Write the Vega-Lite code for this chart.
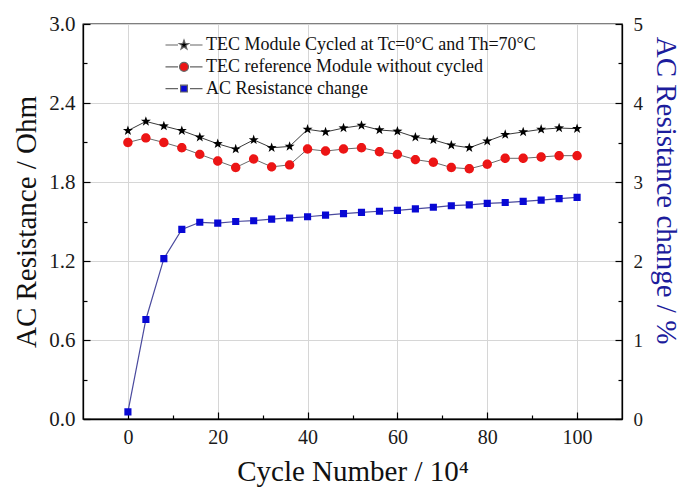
{
  "$schema": "https://vega.github.io/schema/vega-lite/v6.json",
  "width": 539,
  "height": 395,
  "autosize": "none",
  "padding": {"left": 83, "top": 24, "right": 75, "bottom": 74},
  "background": "white",
  "config": {
    "view": {"stroke": "#000", "strokeWidth": 1.3},
    "font": "Liberation Serif",
    "axis": {
      "labelFont": "Liberation Serif",
      "labelFontSize": 19,
      "labelColor": "#1a1a1a",
      "titleFont": "Liberation Serif",
      "titleFontWeight": "normal",
      "titleColor": "#111",
      "domainColor": "#000",
      "domainWidth": 1.3,
      "tickColor": "#000",
      "tickWidth": 1.2,
      "gridColor": "#d6d6d6",
      "gridWidth": 1,
      "labelOverlap": false
    }
  },
  "data": {
    "values": [
      {"cycle": 0, "cycled": 2.19, "reference": 2.10, "change": 0.09},
      {"cycle": 4, "cycled": 2.26, "reference": 2.135, "change": 1.26},
      {"cycle": 8, "cycled": 2.225, "reference": 2.10, "change": 2.03},
      {"cycle": 12, "cycled": 2.19, "reference": 2.06, "change": 2.40},
      {"cycle": 16, "cycled": 2.14, "reference": 2.01, "change": 2.49},
      {"cycle": 20, "cycled": 2.09, "reference": 1.96, "change": 2.48},
      {"cycle": 24, "cycled": 2.05, "reference": 1.91, "change": 2.50},
      {"cycle": 28, "cycled": 2.12, "reference": 1.975, "change": 2.51},
      {"cycle": 32, "cycled": 2.06, "reference": 1.915, "change": 2.53},
      {"cycle": 36, "cycled": 2.07, "reference": 1.93, "change": 2.545},
      {"cycle": 40, "cycled": 2.20, "reference": 2.05, "change": 2.56},
      {"cycle": 44, "cycled": 2.18, "reference": 2.035, "change": 2.58},
      {"cycle": 48, "cycled": 2.21, "reference": 2.05, "change": 2.60},
      {"cycle": 52, "cycled": 2.23, "reference": 2.06, "change": 2.615},
      {"cycle": 56, "cycled": 2.195, "reference": 2.03, "change": 2.63},
      {"cycle": 60, "cycled": 2.185, "reference": 2.01, "change": 2.64},
      {"cycle": 64, "cycled": 2.14, "reference": 1.97, "change": 2.66},
      {"cycle": 68, "cycled": 2.12, "reference": 1.95, "change": 2.68},
      {"cycle": 72, "cycled": 2.08, "reference": 1.91, "change": 2.70},
      {"cycle": 76, "cycled": 2.06, "reference": 1.90, "change": 2.71},
      {"cycle": 80, "cycled": 2.11, "reference": 1.935, "change": 2.73},
      {"cycle": 84, "cycled": 2.16, "reference": 1.98, "change": 2.74},
      {"cycle": 88, "cycled": 2.18, "reference": 1.98, "change": 2.755},
      {"cycle": 92, "cycled": 2.20, "reference": 1.99, "change": 2.77},
      {"cycle": 96, "cycled": 2.21, "reference": 2.00, "change": 2.79},
      {"cycle": 100, "cycled": 2.205, "reference": 2.00, "change": 2.805}
    ]
  },
  "transform": [{"fold": ["cycled", "reference", "change"], "as": ["series", "value"]}],
  "encoding": {
    "x": {
      "field": "cycle",
      "type": "quantitative",
      "scale": {"domain": [-10, 110], "nice": false, "zero": false},
      "axis": {
        "values": [0, 10, 20, 30, 40, 50, 60, 70, 80, 90, 100],
        "format": ".0f",
        "labelExpr": "datum.value % 20 === 0 ? datum.label : ''",
        "tickSize": {"condition": {"test": "datum.value % 20 === 0", "value": -7}, "value": -4},
        "grid": true,
        "gridOpacity": {"condition": {"test": "datum.value % 20 === 0", "value": 1}, "value": 0},
        "labelPadding": 15,
        "labelFontSize": 20,
        "title": "Cycle Number / 10⁴",
        "titleFontSize": 29,
        "titlePadding": 7
      }
    }
  },
  "layer": [
    {
      "transform": [{"filter": "datum.series !== 'change'"}],
      "encoding": {
        "y": {
          "field": "value",
          "type": "quantitative",
          "scale": {"domain": [0, 3], "nice": false, "zero": false},
          "axis": {
            "orient": "left",
            "values": [0, 0.3, 0.6, 0.9, 1.2, 1.5, 1.8, 2.1, 2.4, 2.7, 3.0],
            "format": ".1f",
            "labelExpr": "round(datum.value * 10) % 6 === 0 ? datum.label : ''",
            "tickSize": {"condition": {"test": "round(datum.value * 10) % 6 === 0", "value": -7}, "value": -4},
            "grid": true,
            "gridOpacity": {"condition": {"test": "round(datum.value * 10) % 6 === 0", "value": 1}, "value": 0},
            "labelPadding": 15,
            "labelFontSize": 21,
            "title": "AC Resistance / Ohm",
            "titleFontSize": 29,
            "titlePadding": 7
          }
        }
      },
      "layer": [
        {
          "transform": [{"filter": "datum.series === 'cycled'"}],
          "mark": {"type": "line", "color": "#3a3a3a", "strokeWidth": 1},
          "encoding": {}
        },
        {
          "transform": [{"filter": "datum.series === 'reference'"}],
          "mark": {"type": "line", "color": "#6a6a6a", "strokeWidth": 1},
          "encoding": {}
        },
        {
          "mark": {"type": "point", "filled": true, "opacity": 1, "size": 110, "stroke": "transparent"},
          "encoding": {
            "color": {
              "field": "series",
              "type": "nominal",
              "scale": {"domain": ["cycled", "reference", "change"], "range": ["#000000", "#ec1515", "#0808d4"]},
              "legend": {
                "orient": "none",
                "legendX": 92,
                "legendY": 12,
                "title": null,
                "padding": 0,
                "labelFont": "Liberation Serif",
                "labelFontSize": 18,
                "labelColor": "#111",
                "labelLimit": 0,
                "labelOffset": 13,
                "rowPadding": 3.8,
                "symbolSize": 100,
                "symbolStrokeColor": "#666",
                "symbolStrokeWidth": 1.2,
                "labelExpr": "datum.value === 'cycled' ? 'TEC Module Cycled at Tc=0°C and Th=70°C' : datum.value === 'reference' ? 'TEC reference Module without cycled' : 'AC Resistance change'"
              }
            },
            "shape": {
              "field": "series",
              "type": "nominal",
              "scale": {
                "domain": ["cycled", "reference", "change"],
                "range": [
                  "M-3.7,0L-1.2,0M1.2,0L3.7,0M0,-1L0.235,-0.324L0.951,-0.309L0.38,0.124L0.588,0.809L0,0.4L-0.588,0.809L-0.38,0.124L-0.951,-0.309L-0.235,-0.324Z",
                  "M-3.7,0L-1.2,0M1.2,0L3.7,0M-0.9,0A0.9,0.9,0,1,0,0.9,0A0.9,0.9,0,1,0,-0.9,0Z",
                  "M-3.7,0L-1.2,0M1.2,0L3.7,0M-0.68,-0.68L0.68,-0.68L0.68,0.68L-0.68,0.68Z"
                ]
              }
            }
          }
        }
      ]
    },
    {
      "transform": [{"filter": "datum.series === 'change'"}],
      "encoding": {
        "y": {
          "field": "value",
          "type": "quantitative",
          "scale": {"domain": [0, 5], "nice": false, "zero": false},
          "axis": {
            "orient": "right",
            "values": [0, 0.5, 1, 1.5, 2, 2.5, 3, 3.5, 4, 4.5, 5],
            "format": ".0f",
            "labelExpr": "datum.value % 1 === 0 ? datum.label : ''",
            "tickSize": {"condition": {"test": "datum.value % 1 === 0", "value": -7}, "value": -4},
            "grid": false,
            "labelPadding": 18,
            "labelFontSize": 19,
            "title": "AC Resistance change / %",
            "titleFontSize": 29,
            "titleColor": "#1c1c9c",
            "titlePadding": 8,
            "titleY": 166
          }
        }
      },
      "layer": [
        {
          "mark": {"type": "line", "color": "#4a4a9e", "strokeWidth": 1.2},
          "encoding": {}
        },
        {
          "mark": {"type": "point", "filled": true, "opacity": 1, "size": 110, "stroke": "transparent"},
          "encoding": {
            "color": {
              "field": "series",
              "type": "nominal",
              "scale": {"domain": ["cycled", "reference", "change"], "range": ["#000000", "#ec1515", "#0808d4"]},
              "legend": {
                "orient": "none",
                "legendX": 92,
                "legendY": 12,
                "title": null,
                "padding": 0,
                "labelFont": "Liberation Serif",
                "labelFontSize": 18,
                "labelColor": "#111",
                "labelLimit": 0,
                "labelOffset": 13,
                "rowPadding": 3.8,
                "symbolSize": 100,
                "symbolStrokeColor": "#666",
                "symbolStrokeWidth": 1.2,
                "labelExpr": "datum.value === 'cycled' ? 'TEC Module Cycled at Tc=0°C and Th=70°C' : datum.value === 'reference' ? 'TEC reference Module without cycled' : 'AC Resistance change'"
              }
            },
            "shape": {
              "field": "series",
              "type": "nominal",
              "scale": {
                "domain": ["cycled", "reference", "change"],
                "range": [
                  "M-3.7,0L-1.2,0M1.2,0L3.7,0M0,-1L0.235,-0.324L0.951,-0.309L0.38,0.124L0.588,0.809L0,0.4L-0.588,0.809L-0.38,0.124L-0.951,-0.309L-0.235,-0.324Z",
                  "M-3.7,0L-1.2,0M1.2,0L3.7,0M-0.9,0A0.9,0.9,0,1,0,0.9,0A0.9,0.9,0,1,0,-0.9,0Z",
                  "M-3.7,0L-1.2,0M1.2,0L3.7,0M-0.68,-0.68L0.68,-0.68L0.68,0.68L-0.68,0.68Z"
                ]
              }
            }
          }
        }
      ]
    }
  ],
  "resolve": {"scale": {"y": "independent"}}
}
